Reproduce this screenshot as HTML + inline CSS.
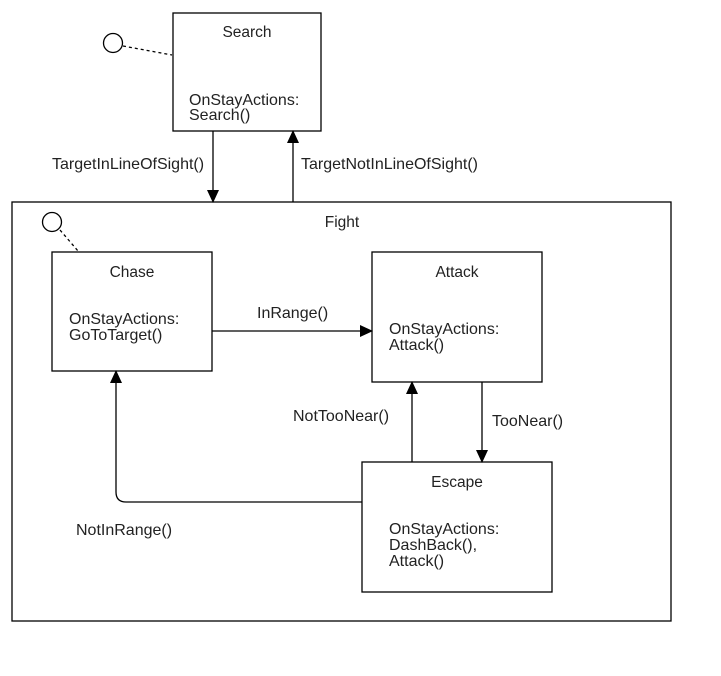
<!DOCTYPE html>
<html><head><style>
body{margin:0;background:#fff;}
svg text{font-family:"Liberation Sans",Arial,sans-serif;font-size:16px;fill:#222;}
svg text.t{font-size:15.5px;}
</style></head><body>
<svg width="721" height="671" viewBox="0 0 721 671" xmlns="http://www.w3.org/2000/svg">
<defs><marker id="a" markerWidth="13" markerHeight="12" refX="12" refY="6" orient="auto" markerUnits="userSpaceOnUse"><path d="M0,0 L13,6 L0,12 z" fill="#000"/></marker></defs>
<g fill="none" stroke="#000" stroke-width="1.3">
<rect x="173" y="13" width="148" height="118"/>
<circle cx="113" cy="43" r="9.5"/>
<line x1="123" y1="46" x2="172" y2="55" stroke-dasharray="3,3"/>
<line x1="213" y1="131" x2="213" y2="202" marker-end="url(#a)"/>
<line x1="293" y1="202" x2="293" y2="131" marker-end="url(#a)"/>
<rect x="12" y="202" width="659" height="419"/>
<circle cx="52" cy="222" r="9.5"/>
<line x1="60" y1="230" x2="78" y2="251" stroke-dasharray="3,3"/>
<rect x="52" y="252" width="160" height="119"/>
<rect x="372" y="252" width="170" height="130"/>
<rect x="362" y="462" width="190" height="130"/>
<line x1="212" y1="331" x2="372" y2="331" marker-end="url(#a)"/>
<line x1="482" y1="382" x2="482" y2="462" marker-end="url(#a)"/>
<line x1="412" y1="462" x2="412" y2="382" marker-end="url(#a)"/>
<path d="M362,502 L126,502 Q116,502 116,492 L116,371" marker-end="url(#a)"/>
</g>
<text class="t" x="247" y="37" text-anchor="middle">Search</text>
<text x="189" y="105">OnStayActions:</text>
<text x="189" y="120">Search()</text>
<text x="52" y="169">TargetInLineOfSight()</text>
<text x="301" y="169">TargetNotInLineOfSight()</text>
<text class="t" x="342" y="227" text-anchor="middle">Fight</text>
<text class="t" x="132" y="277" text-anchor="middle">Chase</text>
<text x="69" y="324">OnStayActions:</text>
<text x="69" y="340">GoToTarget()</text>
<text class="t" x="457" y="277" text-anchor="middle">Attack</text>
<text x="389" y="334">OnStayActions:</text>
<text x="389" y="350">Attack()</text>
<text x="257" y="318">InRange()</text>
<text x="492" y="426">TooNear()</text>
<text x="293" y="421">NotTooNear()</text>
<text class="t" x="457" y="487" text-anchor="middle">Escape</text>
<text x="389" y="534">OnStayActions:</text>
<text x="389" y="550">DashBack(),</text>
<text x="389" y="566">Attack()</text>
<text x="76" y="535">NotInRange()</text>
</svg>
</body></html>
